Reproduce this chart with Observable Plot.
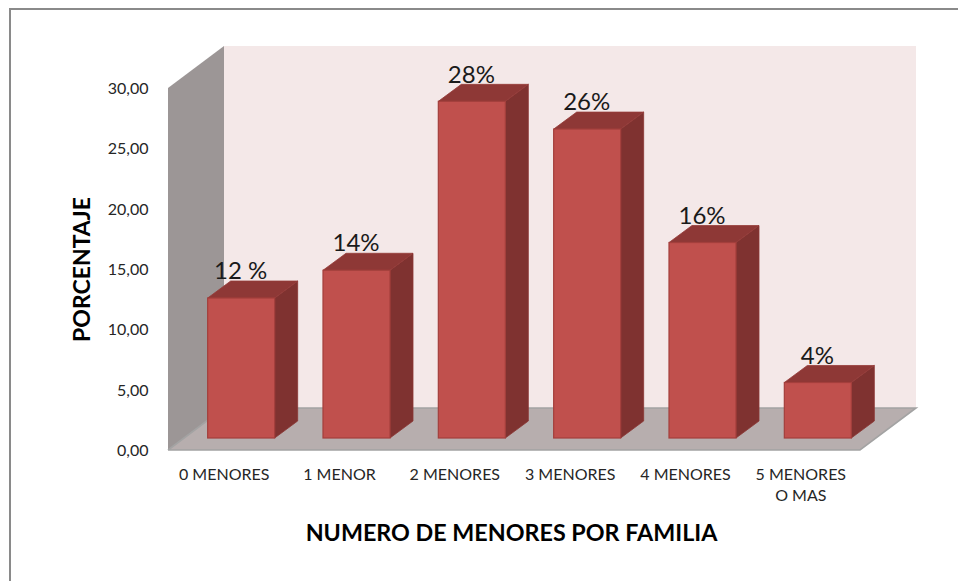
<!DOCTYPE html>
<html><head><meta charset="utf-8">
<script src="https://cdn.jsdelivr.net/npm/d3@7"></script>
<script src="https://cdn.jsdelivr.net/npm/@observablehq/plot@0.6"></script>
<style>
html,body{margin:0;padding:0;background:#fff;overflow:hidden;width:958px;height:581px}
#frame{position:absolute;left:9px;top:8px;width:1000px;height:1000px;border:2.5px solid #8a8a8a;box-sizing:border-box}
#c{position:absolute;left:0;top:0}
svg{background:transparent !important}
</style></head><body>
<div id="frame"></div><div id="c"></div>
<script>
const categories = ["0 MENORES","1 MENOR","2 MENORES","3 MENORES","4 MENORES","5 MENORES\nO MAS"];
const values = [11.6,13.9,27.9,25.6,16.2,4.6];
const valueLabels = ["12 %","14%","28%","26%","16%","4%"];
const yTicks = [0,5,10,15,20,25,30];
const table = categories.map((cat,i)=>({cat,value:values[i],label:valueLabels[i]}));

const FONT = "Lato, 'Open Sans', sans-serif";
const wallDepth = [56,-42], barOffset = [15.5,-12], barDepth = [23,-17], gap = 0.419;

function poly(g,pts,fill,stroke,sw){
  g.append("polygon").attr("points",pts.map(p=>p.join(",")).join(" "))
   .attr("fill",fill).attr("stroke",stroke||"none").attr("stroke-width",sw||0).attr("stroke-linejoin","round");
}
function walls(index,{y},values_,dims){
  const g=d3.create("svg:g");
  const l=dims.marginLeft,r=dims.width-dims.marginRight,y0=y(0),y1=y(30),[dx,dy]=wallDepth;
  poly(g,[[l+dx,y1+dy],[r+dx,y1+dy],[r+dx,y0+dy],[l+dx,y0+dy]],"#f4e8e8");
  poly(g,[[l,y1],[l+dx,y1+dy],[l+dx,y0+dy],[l,y0]],"#9c9696");
  poly(g,[[l,y0],[r,y0],[r+dx,y0+dy],[l+dx,y0+dy]],"#b7aeae");
  g.append("path").attr("d",`M${l},${y0}H${r}L${r+dx},${y0+dy}H${l+dx}L${l},${y0}`).attr("fill","none").attr("stroke","#a3a3a3").attr("stroke-width",1.6);
  return g.node();
}
function prisms(index,{x,y}){
  const g=d3.create("svg:g");
  const bw=(x(categories[1])-x(categories[0]))*(1-gap);
  for(const d of table){
    const x0=x(d.cat)+barOffset[0],x1=x0+bw,t=y(d.value)+barOffset[1],b=y(0)+barOffset[1],[dx,dy]=barDepth;
    poly(g,[[x1,t],[x1+dx,t+dy],[x1+dx,b+dy],[x1,b]],"#7f3230","#8a3633",.8);
    poly(g,[[x0,t],[x1,t],[x1+dx,t+dy],[x0+dx,t+dy]],"#8e3836","#963b39",.8);
  }
  return g.node();
}

const chart = Plot.plot({
  width:958,height:581,
  marginTop:88,marginBottom:131,marginLeft:168,marginRight:98,
  style:{fontFamily:FONT,background:"transparent",overflow:"visible"},
  x:{type:"band",domain:categories,paddingInner:gap,paddingOuter:gap/2,round:false,axis:null},
  y:{domain:[0,30],nice:false,axis:null},
  marks:[
    walls,
    prisms,
    Plot.barY(table,{x:"cat",y:"value",fill:"#c0504d",stroke:"#a33f3c",strokeWidth:1.2,dx:barOffset[0],dy:barOffset[1]}),
    Plot.axisY({ticks:yTicks,tickSize:0,tickPadding:20,dy:0.5,tickFormat:d=>d3.format(".2f")(d).replace(".",","),fontSize:16,fill:"#262626",label:null}),
    Plot.axisX({tickSize:0,tickPadding:15,dx:-2,fontSize:16,fill:"#262626",label:null,lineHeight:1.3}),
    Plot.text(table,{x:"cat",y:"value",text:"label",dx:14.5,dy:-39,fontSize:24,fill:"#1a1a1a"}),
    Plot.text(["PORCENTAJE"],{frameAnchor:"left",textAnchor:"middle",rotate:-90,dx:-86,fontSize:23,fontWeight:"bold",fill:"#000"}),
    Plot.text(["NUMERO DE MENORES POR FAMILIA"],{frameAnchor:"bottom",dx:-3,dy:90,fontSize:23.3,fontWeight:"bold",fill:"#000"})
  ]
});
document.getElementById("c").append(chart);
</script>
</body></html>
